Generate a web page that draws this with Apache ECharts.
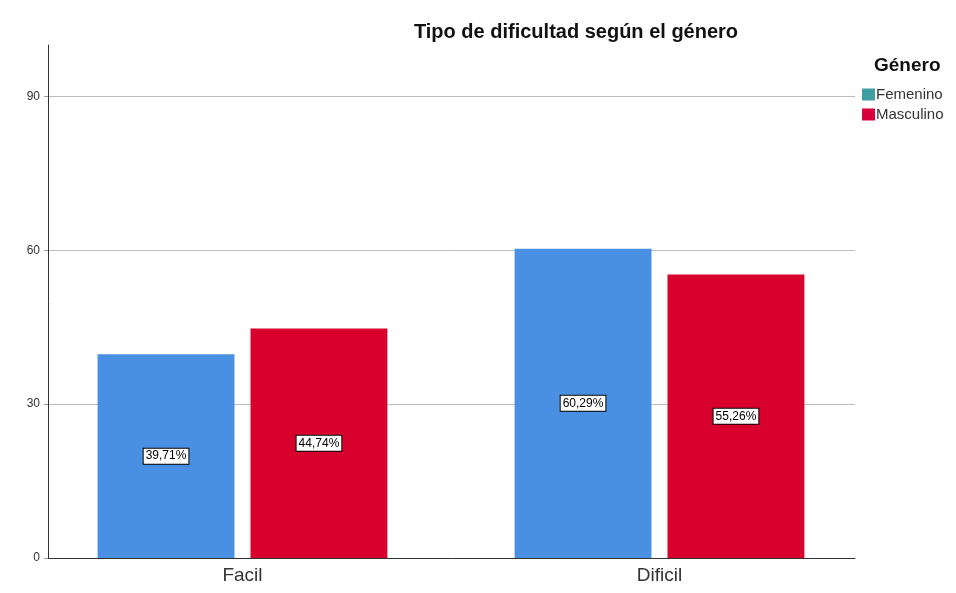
<!DOCTYPE html>
<html>
<head>
<meta charset="utf-8">
<script src="https://cdn.jsdelivr.net/npm/echarts@6/dist/echarts.min.js"></script>
<style>html,body{margin:0;padding:0;background:#fff}#c{width:956px;height:593px}</style>
</head>
<body>
<div id="c"></div>
<script>
const categories = ['Facil', 'Dificil'];
const femenino = [39.71, 60.29];
const masculino = [44.74, 55.26];
const yTicks = [0, 30, 60, 90];

const chart = echarts.init(document.getElementById('c'));
const FF = 'Arial, Liberation Sans, sans-serif';
const fmt = v => v.toFixed(2).replace('.', ',') + '%';
const labelStyle = {
  show: true, position: 'inside',
  formatter: p => fmt(p.value),
  color: '#000', fontSize: 12, fontFamily: FF,
  backgroundColor: '#fff', borderColor: '#000', borderWidth: 1, padding: [2, 2, 1, 2]
};
chart.setOption({
  backgroundColor: '#fff',
  animation: false,
  title: [
    { text: 'Tipo de dificultad según el género', left: 571, top: 17, textAlign: 'center',
      textStyle: { fontSize: 20, fontWeight: 'bold', color: '#111', fontFamily: FF } },
    { text: 'Género', left: 869, top: 51,
      textStyle: { fontSize: 19, fontWeight: 'bold', color: '#111', fontFamily: FF } }
  ],
  legend: {
    orient: 'vertical', left: 857, top: 82, itemWidth: 13, itemHeight: 12, itemGap: 5,
    textStyle: { fontSize: 15, color: '#333', fontFamily: FF, padding: [0, 0, 0, -4] },
    data: [
      { name: 'Femenino', icon: 'rect', itemStyle: { color: '#3f9fa3' } },
      { name: 'Masculino', icon: 'rect', itemStyle: { color: '#d8003a' } }
    ]
  },
  grid: [
    { left: 48, right: 101, top: 45, bottom: 35 },
    { left: 34, right: 88, top: 45, bottom: 35 }
  ],
  xAxis: [
    { type: 'category', gridIndex: 0, data: categories,
      axisLine: { lineStyle: { color: '#333', width: 1 } }, axisTick: { show: false },
      axisLabel: { show: false } },
    { type: 'category', gridIndex: 1, data: categories,
      axisLine: { show: false }, axisTick: { show: false },
      axisLabel: { fontSize: 19, color: '#333', margin: 8, fontFamily: FF } }
  ],
  yAxis: [
    { type: 'value', gridIndex: 0, min: 0, max: 100, interval: 30,
      axisLine: { show: true, lineStyle: { color: '#333' } },
      axisTick: { show: true, length: 4, lineStyle: { color: '#999' }, customValues: yTicks },
      axisLabel: { fontSize: 12, color: '#333', margin: 8, fontFamily: FF, customValues: yTicks },
      splitLine: { show: true, lineStyle: { color: ['#bdbdbd', '#bdbdbd', '#bdbdbd', '#bdbdbd', 'rgba(0,0,0,0)'], width: 1 } } },
    { type: 'value', gridIndex: 1, min: 0, max: 100, interval: 30, show: false }
  ],
  series: [
    { name: 'Femenino', type: 'bar', xAxisIndex: 1, yAxisIndex: 1, data: femenino,
      barGap: '11.7%', barCategoryGap: '30.5%',
      itemStyle: { color: '#4a90e2' }, label: labelStyle },
    { name: 'Masculino', type: 'bar', xAxisIndex: 1, yAxisIndex: 1, data: masculino,
      barGap: '11.7%', barCategoryGap: '30.5%',
      itemStyle: { color: '#d8002c' }, label: labelStyle }
  ]
});
</script>
</body>
</html>
